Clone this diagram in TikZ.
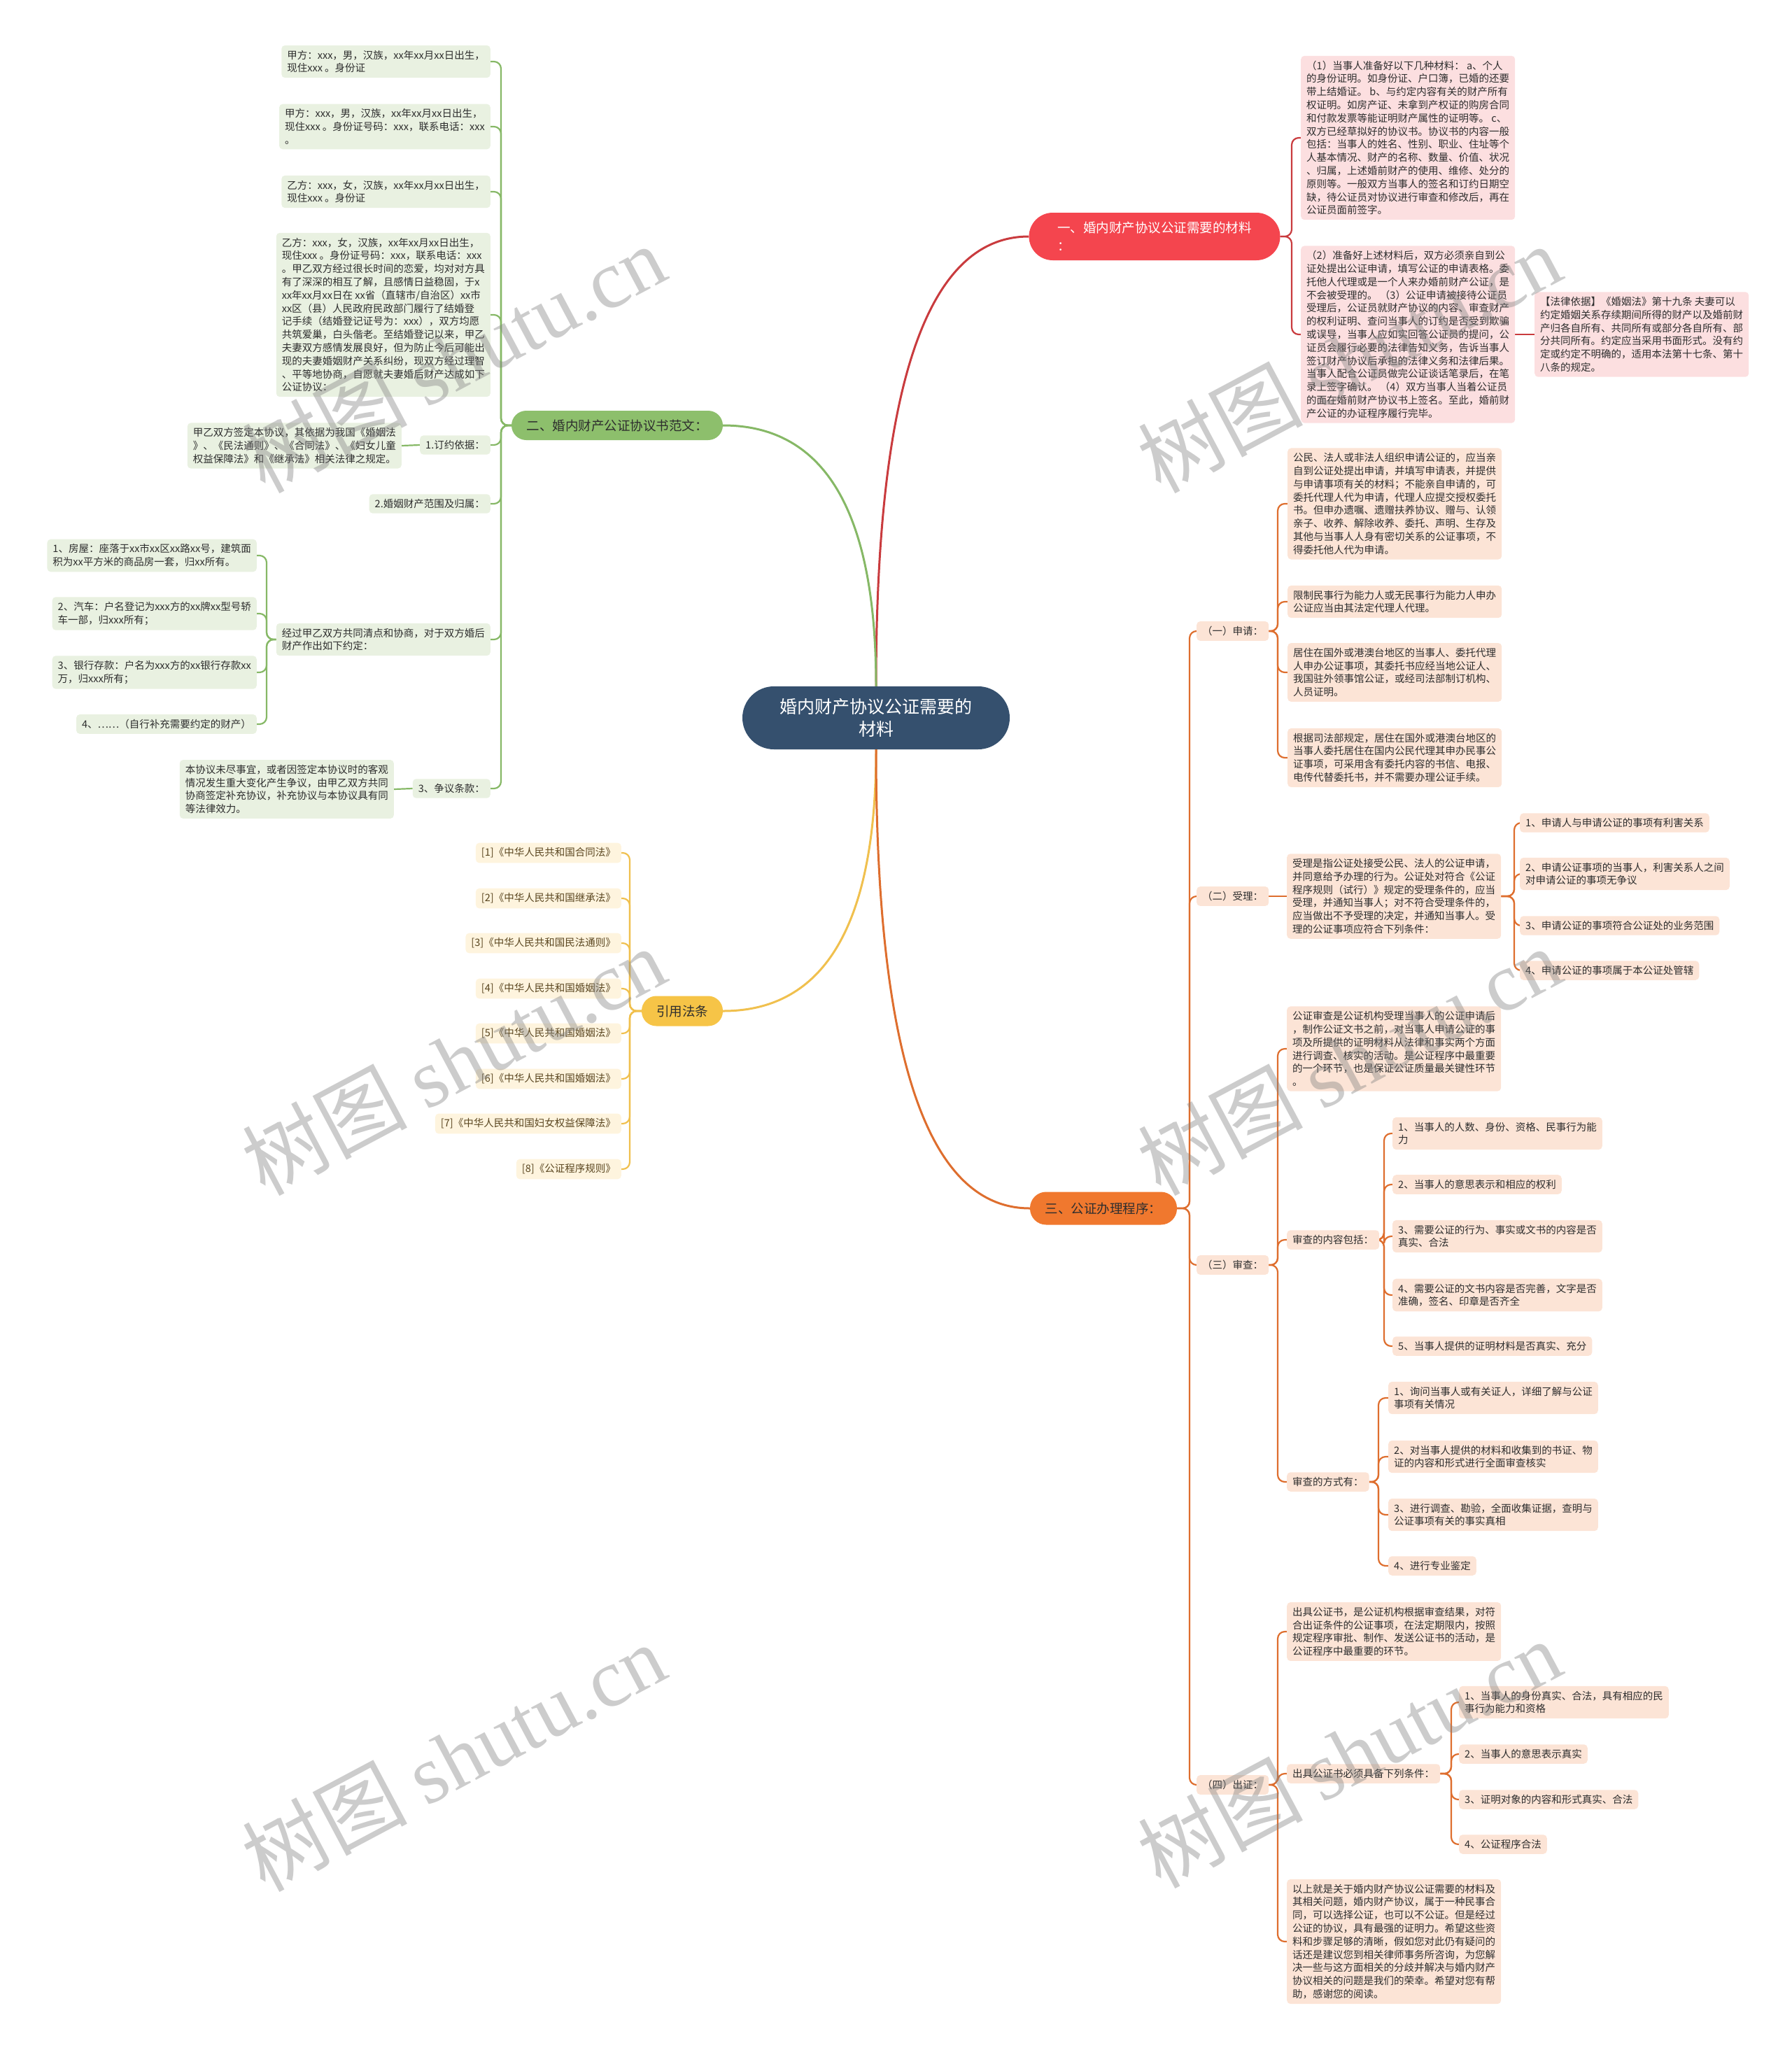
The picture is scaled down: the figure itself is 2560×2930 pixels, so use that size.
\documentclass[tikz,border=0pt]{standalone}
\usepackage{fontspec}
\setmainfont{Noto Sans CJK SC}
\newfontfamily\wmlat{Liberation Serif}
\usetikzlibrary{calc}
\pgfdeclarelayer{bg}
\pgfdeclarelayer{fg}
\pgfsetlayers{bg,main,fg}
\definecolor{cenblue}{HTML}{35506E}
\definecolor{redmain}{HTML}{F4454E}
\definecolor{redleaf}{HTML}{FCDFE0}
\definecolor{redline}{HTML}{C93B3E}
\definecolor{grnmain}{HTML}{8DBF6C}
\definecolor{grnleaf}{HTML}{E9F1E1}
\definecolor{grnline}{HTML}{86B866}
\definecolor{ylwmain}{HTML}{F6C447}
\definecolor{ylwleaf}{HTML}{FEF4DE}
\definecolor{ylwline}{HTML}{F0C04E}
\definecolor{ylwtxt}{HTML}{5A4620}
\definecolor{orgmain}{HTML}{F0782E}
\definecolor{orgleaf}{HTML}{FCE4D6}
\definecolor{orgline}{HTML}{DE6E2E}
\definecolor{txt}{HTML}{2E2E2E}
\begin{document}
\begin{tikzpicture}[x=1pt,y=-1pt,
  leaf/.style={rounded corners=5pt, inner xsep=8pt, inner ysep=7pt, align=left, text=txt, font=\fontsize{14.5}{18.8}\selectfont},
  leafr/.style={leaf, fill=redleaf},
  leafg/.style={leaf, fill=grnleaf},
  leafy/.style={leaf, fill=ylwleaf, text=ylwtxt},
  leafo/.style={leaf, fill=orgleaf},
  branch/.style={align=left, font=\fontsize{18.5}{26}\selectfont},
  conn/.style={line width=2.2pt, rounded corners=10pt},
  cr/.style={conn, draw=redline},
  cg/.style={conn, draw=grnline},
  cy/.style={conn, draw=ylwline},
  co/.style={conn, draw=orgline},
  mconn/.style={line width=3pt},
  wm/.style={rotate=28, text=gray, opacity=0.4, font=\fontsize{118}{122}\selectfont}
]
\useasboundingbox (0,0) rectangle (2560,2930);

% central and branches
\node[fill=cenblue, text=white, rounded corners=45pt, minimum width=382pt, minimum height=90pt, align=center, font=\fontsize{25}{32}\selectfont] (cen) at (1252,1026) {婚内财产协议公证需要的\\材料};
\node[branch, fill=redmain, text=white, rounded corners=34pt, minimum width=359pt, minimum height=68pt] (R) at (1650,338) {一、婚内财产协议公证需要的材料\\：};
\node[branch, fill=grnmain, text=txt, rounded corners=21pt, minimum width=302pt, minimum height=42pt] (G) at (882,608) {二、婚内财产公证协议书范文：};
\node[branch, fill=ylwmain, text=txt, rounded corners=21pt, minimum width=116pt, minimum height=43pt] (Y) at (975,1445) {引用法条};
\node[branch, fill=orgmain, text=txt, rounded corners=23pt, minimum width=210pt, minimum height=47pt] (O) at (1577,1727) {三、公证办理程序：};

% red leaves
\node[leafr, anchor=west] (r1) at (1859,197) {（1）当事人准备好以下几种材料： a、个人\\的身份证明。如身份证、户口簿，已婚的还要\\带上结婚证。 b、与约定内容有关的财产所有\\权证明。如房产证、未拿到产权证的购房合同\\和付款发票等能证明财产属性的证明等。 c、\\双方已经草拟好的协议书。协议书的内容一般\\包括：当事人的姓名、性别、职业、住址等个\\人基本情况、财产的名称、数量、价值、状况\\、归属，上述婚前财产的使用、维修、处分的\\原则等。一般双方当事人的签名和订约日期空\\缺，待公证员对协议进行审查和修改后，再在\\公证员面前签字。};
\node[leafr, anchor=west] (r2) at (1859,478) {（2）准备好上述材料后，双方必须亲自到公\\证处提出公证申请，填写公证的申请表格。委\\托他人代理或是一个人来办婚前财产公证，是\\不会被受理的。 （3）公证申请被接待公证员\\受理后，公证员就财产协议的内容、审查财产\\的权利证明、查问当事人的订约是否受到欺骗\\或误导，当事人应如实回答公证员的提问，公\\证员会履行必要的法律告知义务，告诉当事人\\签订财产协议后承担的法律义务和法律后果。\\当事人配合公证员做完公证谈话笔录后，在笔\\录上签字确认。 （4）双方当事人当着公证员\\的面在婚前财产协议书上签名。至此，婚前财\\产公证的办证程序履行完毕。};
\node[leafr, anchor=west] (law) at (2193,478) {【法律依据】《婚姻法》第十九条 夫妻可以\\约定婚姻关系存续期间所得的财产以及婚前财\\产归各自所有、共同所有或部分各自所有、部\\分共同所有。约定应当采用书面形式。没有约\\定或约定不明确的，适用本法第十七条、第十\\八条的规定。};

% green leaves
\node[leafg, anchor=east] (g1) at (701,88) {甲方：xxx，男，汉族，xx年xx月xx日出生，\\现住xxx 。身份证};
\node[leafg, anchor=east] (g2) at (701,181) {甲方：xxx，男，汉族，xx年xx月xx日出生，\\现住xxx 。身份证号码：xxx，联系电话：xxx\\。};
\node[leafg, anchor=east] (g3) at (701,274) {乙方：xxx，女，汉族，xx年xx月xx日出生，\\现住xxx 。身份证};
\node[leafg, anchor=east] (g4) at (701,450) {乙方：xxx，女，汉族，xx年xx月xx日出生，\\现住xxx 。身份证号码：xxx，联系电话：xxx\\。甲乙双方经过很长时间的恋爱，均对对方具\\有了深深的相互了解，且感情日益稳固，于x\\xx年xx月xx日在 xx省（直辖市/自治区）xx市\\ xx区（县）人民政府民政部门履行了结婚登\\记手续（结婚登记证号为：xxx），双方均愿\\共筑爱巢，白头偕老。至结婚登记以来，甲乙\\夫妻双方感情发展良好，但为防止今后可能出\\现的夫妻婚姻财产关系纠纷，现双方经过理智\\、平等地协商，自愿就夫妻婚后财产达成如下\\公证协议：};
\node[leafg, anchor=east] (gA) at (701,636) {1.订约依据：};
\node[leafg, anchor=east] (gAk) at (574,637) {甲乙双方签定本协议，其依据为我国《婚姻法\\》、《民法通则》、《合同法》、《妇女儿童\\权益保障法》和《继承法》相关法律之规定。};
\node[leafg, anchor=east] (gB) at (701,720) {2.婚姻财产范围及归属：};
\node[leafg, anchor=east] (gC) at (701,914) {经过甲乙双方共同清点和协商，对于双方婚后\\财产作出如下约定：};
\node[leafg, anchor=east] (c1) at (367,794) {1、房屋：座落于xx市xx区xx路xx号，建筑面\\积为xx平方米的商品房一套，归xx所有。};
\node[leafg, anchor=east] (c2) at (367,877) {2、汽车：户名登记为xxx方的xx牌xx型号轿\\车一部，归xxx所有；};
\node[leafg, anchor=east] (c3) at (367,961) {3、银行存款：户名为xxx方的xx银行存款xx\\万，归xxx所有；};
\node[leafg, anchor=east] (c4) at (367,1035) {4、……（自行补充需要约定的财产）};
\node[leafg, anchor=east] (gD) at (701,1127) {3、争议条款：};
\node[leafg, anchor=east] (gDk) at (563,1128) {本协议未尽事宜，或者因签定本协议时的客观\\情况发生重大变化产生争议，由甲乙双方共同\\协商签定补充协议，补充协议与本协议具有同\\等法律效力。};

% yellow leaves
\node[leafy, anchor=east] (y1) at (888,1219) {[1]《中华人民共和国合同法》};
\node[leafy, anchor=east] (y2) at (888,1284) {[2]《中华人民共和国继承法》};
\node[leafy, anchor=east] (y3) at (888,1348) {[3]《中华人民共和国民法通则》};
\node[leafy, anchor=east] (y4) at (888,1413) {[4]《中华人民共和国婚姻法》};
\node[leafy, anchor=east] (y5) at (888,1477) {[5]《中华人民共和国婚姻法》};
\node[leafy, anchor=east] (y6) at (888,1542) {[6]《中华人民共和国婚姻法》};
\node[leafy, anchor=east] (y7) at (888,1606) {[7]《中华人民共和国妇女权益保障法》};
\node[leafy, anchor=east] (y8) at (888,1671) {[8]《公证程序规则》};

% orange
\node[leafo, anchor=west] (o1) at (1710,902) {（一）申请：};
\node[leafo, anchor=west] (o2) at (1710,1281) {（二）受理：};
\node[leafo, anchor=west] (o3) at (1710,1808) {（三）审查：};
\node[leafo, anchor=west] (o4) at (1710,2551) {（四）出证：};

\node[leafo, anchor=west] (a1) at (1840,720) {公民、法人或非法人组织申请公证的，应当亲\\自到公证处提出申请，并填写申请表，并提供\\与申请事项有关的材料；不能亲自申请的，可\\委托代理人代为申请，代理人应提交授权委托\\书。但申办遗嘱、遗赠扶养协议、赠与、认领\\亲子、收养、解除收养、委托、声明、生存及\\其他与当事人人身有密切关系的公证事项，不\\得委托他人代为申请。};
\node[leafo, anchor=west] (a2) at (1840,860) {限制民事行为能力人或无民事行为能力人申办\\公证应当由其法定代理人代理。};
\node[leafo, anchor=west] (a3) at (1840,961) {居住在国外或港澳台地区的当事人、委托代理\\人申办公证事项，其委托书应经当地公证人、\\我国驻外领事馆公证，或经司法部制订机构、\\人员证明。};
\node[leafo, anchor=west] (a4) at (1840,1083) {根据司法部规定，居住在国外或港澳台地区的\\当事人委托居住在国内公民代理其申办民事公\\证事项，可采用含有委托内容的书信、电报、\\电传代替委托书，并不需要办理公证手续。};

\node[leafo, anchor=west] (acc) at (1839,1281) {受理是指公证处接受公民、法人的公证申请，\\并同意给予办理的行为。公证处对符合《公证\\程序规则（试行）》规定的受理条件的，应当\\受理，并通知当事人；对不符合受理条件的，\\应当做出不予受理的决定，并通知当事人。受\\理的公证事项应符合下列条件：};
\node[leafo, anchor=west] (b1) at (2172,1176) {1、申请人与申请公证的事项有利害关系};
\node[leafo, anchor=west] (b2) at (2172,1249) {2、申请公证事项的当事人，利害关系人之间\\对申请公证的事项无争议};
\node[leafo, anchor=west] (b3) at (2172,1323) {3、申请公证的事项符合公证处的业务范围};
\node[leafo, anchor=west] (b4) at (2172,1387) {4、申请公证的事项属于本公证处管辖};

\node[leafo, anchor=west] (e1) at (1839,1499) {公证审查是公证机构受理当事人的公证申请后\\，制作公证文书之前，对当事人申请公证的事\\项及所提供的证明材料从法律和事实两个方面\\进行调查、核实的活动。是公证程序中最重要\\的一个环节，也是保证公证质量最关键性环节\\。};
\node[leafo, anchor=west] (e2) at (1839,1772) {审查的内容包括：};
\node[leafo, anchor=west] (e3) at (1839,2118) {审查的方式有：};
\node[leafo, anchor=west] (f1) at (1990,1620) {1、当事人的人数、身份、资格、民事行为能\\力};
\node[leafo, anchor=west] (f2) at (1990,1693) {2、当事人的意思表示和相应的权利};
\node[leafo, anchor=west] (f3) at (1990,1767) {3、需要公证的行为、事实或文书的内容是否\\真实、合法};
\node[leafo, anchor=west] (f4) at (1990,1851) {4、需要公证的文书内容是否完善，文字是否\\准确，签名、印章是否齐全};
\node[leafo, anchor=west] (f5) at (1990,1924) {5、当事人提供的证明材料是否真实、充分};
\node[leafo, anchor=west] (h1) at (1984,1998) {1、询问当事人或有关证人，详细了解与公证\\事项有关情况};
\node[leafo, anchor=west] (h2) at (1984,2082) {2、对当事人提供的材料和收集到的书证、物\\证的内容和形式进行全面审查核实};
\node[leafo, anchor=west] (h3) at (1984,2165) {3、进行调查、勘验，全面收集证据，查明与\\公证事项有关的事实真相};
\node[leafo, anchor=west] (h4) at (1984,2238) {4、进行专业鉴定};

\node[leafo, anchor=west] (s1) at (1839,2332) {出具公证书，是公证机构根据审查结果，对符\\合出证条件的公证事项，在法定期限内，按照\\规定程序审批、制作、发送公证书的活动，是\\公证程序中最重要的环节。};
\node[leafo, anchor=west] (s2) at (1839,2535) {出具公证书必须具备下列条件：};
\node[leafo, anchor=west] (s3) at (1839,2775) {以上就是关于婚内财产协议公证需要的材料及\\其相关问题，婚内财产协议，属于一种民事合\\同，可以选择公证，也可以不公证。但是经过\\公证的协议，具有最强的证明力。希望这些资\\料和步骤足够的清晰，假如您对此仍有疑问的\\话还是建议您到相关律师事务所咨询，为您解\\决一些与这方面相关的分歧并解决与婚内财产\\协议相关的问题是我们的荣幸。希望对您有帮\\助，感谢您的阅读。};
\node[leafo, anchor=west] (t1) at (2085,2433) {1、当事人的身份真实、合法，具有相应的民\\事行为能力和资格};
\node[leafo, anchor=west] (t2) at (2085,2507) {2、当事人的意思表示真实};
\node[leafo, anchor=west] (t3) at (2085,2572) {3、证明对象的内容和形式真实、合法};
\node[leafo, anchor=west] (t4) at (2085,2636) {4、公证程序合法};

% bus coordinates
\coordinate (busR) at (1846,0);
\coordinate (busG) at (716,0);
\coordinate (busC) at (381,0);
\coordinate (busY) at (900,0);
\coordinate (busO) at (1700,0);
\coordinate (busO1) at (1826,0);
\coordinate (busAcc) at (2164,0);
\coordinate (busE2) at (1978,0);
\coordinate (busE3) at (1970,0);
\coordinate (busS2) at (2074,0);

\begin{pgfonlayer}{bg}
% main connectors (quadratic curves)
\coordinate (kR) at (cen.north |- R.west);
\coordinate (kG) at (cen.north |- G.east);
\coordinate (kY) at (cen.south |- Y.east);
\coordinate (kO) at (cen.south |- O.west);
\draw[mconn, draw=redline] (cen.north) .. controls ($(cen.north)!0.667!(kR)$) and ($(R.west)!0.667!(kR)$) .. (R.west);
\draw[mconn, draw=grnline] (cen.north) .. controls ($(cen.north)!0.667!(kG)$) and ($(G.east)!0.667!(kG)$) .. (G.east);
\draw[mconn, draw=ylwline] (cen.south) .. controls ($(cen.south)!0.667!(kY)$) and ($(Y.east)!0.667!(kY)$) .. (Y.east);
\draw[mconn, draw=orgline] (cen.south) .. controls ($(cen.south)!0.667!(kO)$) and ($(O.west)!0.667!(kO)$) .. (O.west);

% red
\foreach \c in {r1,r2} \draw[cr] (R.east) -- (R.east -| busR) |- (\c.west);
\draw[cr] (r2.east) -- (law.west);
% green
\foreach \c in {g1,g2,g3,g4,gA,gB,gC,gD} \draw[cg] (G.west) -- (G.west -| busG) |- (\c.east);
\draw[cg] (gA.west) -- (gAk.east);
\draw[cg] (gD.west) -- (gDk.east);
\foreach \c in {c1,c2,c3,c4} \draw[cg] (gC.west) -- (gC.west -| busC) |- (\c.east);
% yellow
\foreach \c in {y1,y2,y3,y4,y5,y6,y7,y8} \draw[cy] (Y.west) -- (Y.west -| busY) |- (\c.east);
% orange
\foreach \c in {o1,o2,o3,o4} \draw[co] (O.east) -- (O.east -| busO) |- (\c.west);
\foreach \c in {a1,a2,a3,a4} \draw[co] (o1.east) -- (o1.east -| busO1) |- (\c.west);
\draw[co] (o2.east) -- (acc.west);
\foreach \c in {b1,b2,b3,b4} \draw[co] (acc.east) -- (acc.east -| busAcc) |- (\c.west);
\foreach \c in {e1,e2,e3} \draw[co] (o3.east) -- (o3.east -| busO1) |- (\c.west);
\foreach \c in {f1,f2,f3,f4,f5} \draw[co] (e2.east) -- (e2.east -| busE2) |- (\c.west);
\foreach \c in {h1,h2,h3,h4} \draw[co] (e3.east) -- (e3.east -| busE3) |- (\c.west);
\foreach \c in {s1,s2,s3} \draw[co] (o4.east) -- (o4.east -| busO1) |- (\c.west);
\foreach \c in {t1,t2,t3,t4} \draw[co] (s2.east) -- (s2.east -| busS2) |- (\c.west);
\end{pgfonlayer}

% watermarks
\begin{pgfonlayer}{fg}
\node[wm] (w1) at (648,512) {树图 {\wmlat shutu.cn}};
\node[wm] (w2) at (648,1516) {树图 {\wmlat shutu.cn}};
\node[wm] (w3) at (648,2511) {树图 {\wmlat shutu.cn}};
\node[wm] (w4) at (1928,512) {树图 {\wmlat shutu.cn}};
\node[wm] (w5) at (1928,1516) {树图 {\wmlat shutu.cn}};
\node[wm] (w6) at (1928,2506) {树图 {\wmlat shutu.cn}};
\end{pgfonlayer}
\end{tikzpicture}
\end{document}
